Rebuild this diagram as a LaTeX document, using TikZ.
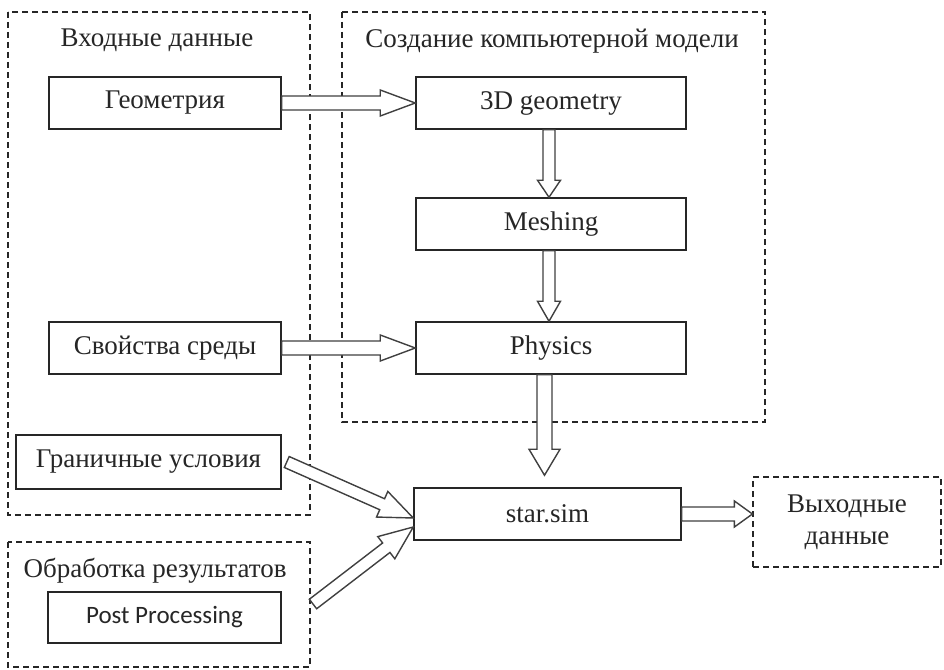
\documentclass[tikz,border=0pt]{standalone}
\usepackage{fontspec}
\setmainfont{Liberation Serif}
\newfontfamily\postfont{Carlito}
\usetikzlibrary{calc}
\definecolor{linec}{HTML}{262626}
\definecolor{arrc}{HTML}{404040}
\tikzset{
  frame/.style={draw=linec, line width=1.2pt, dash pattern=on 6pt off 4pt},
  stepbox/.style={draw=linec, line width=1.5pt, fill=white, minimum height=52pt, inner sep=0pt,
     font=\fontsize{27}{31}\selectfont, text=linec},
  titletext/.style={font=\fontsize{27}{31}\selectfont, text=linec, anchor=base, inner sep=0pt},
  blockarrow/.style={draw=arrc, line width=1.4pt, fill=white, line join=miter},
}
\newcommand{\barrow}[5]{%
  \coordinate (bh) at ($(#2)!#5pt!(#1)$);
  \draw[blockarrow] ($(#1)!#3pt!90:(#2)$) -- ($(bh)!#3pt!-90:(#1)$) -- ($(bh)!#4pt!-90:(#1)$) -- (#2)
     -- ($(bh)!#4pt!90:(#1)$) -- ($(bh)!#3pt!90:(#1)$) -- ($(#1)!#3pt!-90:(#2)$) -- cycle;
}
\begin{document}
\begin{tikzpicture}[x=1pt,y=-1pt]
\useasboundingbox[fill=white] (0,0) rectangle (944,669);
% frames
\draw[frame] (8,12) rectangle (310,515);
\draw[frame] (342,12) rectangle (765,422);
\draw[frame] (8,542) rectangle (310,667);
% titles
\node[titletext] (t1) at (157,47) {Входные данные};
\node[titletext] (t2) at (552,48) {Создание компьютерной модели};
\node[titletext] (t3) at (155,577) {Обработка результатов};
% boxes
\node[stepbox, minimum width=232pt] (geo) at (165,103) {Геометрия};
\node[stepbox, minimum width=232pt] (svo) at (165,348) {Свойства среды};
\node[stepbox, minimum width=265pt, minimum height=54pt] (gran) at (148.5,462) {Граничные условия};
\node[stepbox, minimum width=233pt, minimum height=51pt, font=\postfont\fontsize{25}{29}\selectfont] (post) at (164.5,617.5) {Post Processing};
\node[stepbox, minimum width=270pt] (g3d) at (551,103) {3D geometry};
\node[stepbox, minimum width=270pt] (mesh) at (551,224) {Meshing};
\node[stepbox, minimum width=270pt] (phys) at (551,348) {Physics};
\node[stepbox, minimum width=267pt] (star) at (547.5,514) {star.sim};
\node[frame, minimum width=188pt, minimum height=90pt, inner sep=0pt, text=linec, align=center,
  font=\fontsize{27}{32}\selectfont] (out) at (847,522) {Выходные\\данные};
% arrow helper coordinates
\coordinate (g3dS) at ($(g3d.south)+(-2,0)$);
\coordinate (meshN) at ($(mesh.north)+(-2,0)$);
\coordinate (meshS) at ($(mesh.south)+(-2,0)$);
\coordinate (physN) at ($(phys.north)+(-2,0)$);
\coordinate (physS) at ($(phys.south)+(-6.5,0)$);
\coordinate (starIn) at ($(star.north)+(-3,-12)$);
\coordinate (granOut) at ($(gran.east)+(5,0)$);
\coordinate (starA) at ($(star.west)+(0,4)$);
\coordinate (postOut) at (313,604);
\coordinate (starB) at ($(star.west)+(0,13)$);
\coordinate (outIn) at (out.west |- star.east);
% arrows
\barrow{geo.east}{g3d.west}{7}{13}{35}
\barrow{svo.east}{phys.west}{7}{13}{35}
\barrow{g3dS}{meshN}{6}{11.5}{17}
\barrow{meshS}{physN}{6}{11.5}{20}
\barrow{physS}{starIn}{7.5}{15.5}{26}
\barrow{granOut}{starA}{6}{14}{34}
\barrow{postOut}{starB}{6}{14}{34}
\barrow{star.east}{outIn}{7}{13}{18}
\end{tikzpicture}
\end{document}
